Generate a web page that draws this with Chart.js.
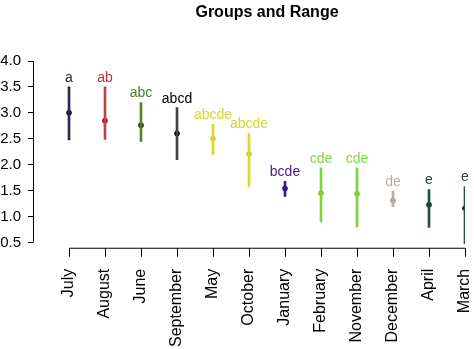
<!DOCTYPE html>
<html>
<head>
<meta charset="utf-8">
<script src="https://cdn.jsdelivr.net/npm/chart.js@4/dist/chart.umd.min.js"></script>
<style>
  html, body { margin: 0; padding: 0; background: #fff; }
  canvas { display: block; }
</style>
</head>
<body>
<canvas id="rangeChart" width="474" height="349"></canvas>
<script>
const months = ["July", "August", "June", "September", "May", "October",
  "January", "February", "November", "December", "April", "March"];
const means = [3.0, 2.85, 2.76, 2.6, 2.5, 2.21, 1.54, 1.45, 1.44, 1.31, 1.23, 1.16];
const lows  = [2.48, 2.49, 2.45, 2.1, 2.2, 1.58, 1.39, 0.9, 0.8, 1.19, 0.79, 0.48];
const highs = [3.5, 3.5, 3.2, 3.1, 2.78, 2.6, 1.68, 1.94, 1.94, 1.49, 1.52, 1.58];
const groups = ["a", "ab", "abc", "abcd", "abcde", "abcde", "bcde", "cde", "cde", "de", "e", "e"];
const yTicks = [0.5, 1.0, 1.5, 2.0, 2.5, 3.0, 3.5, 4.0];

const lineColors  = ["#2a2a48", "#b5474b", "#5b7d2d", "#404040", "#d9d92a", "#d9d92a",
  "#3a1a8a", "#7ed33a", "#7ed33a", "#b8aca6", "#245040", "#245040"];
const dotColors   = ["#111122", "#c00010", "#0e2a0e", "#000000", "#d0d020", "#d0d020",
  "#2a1080", "#74cc30", "#74cc30", "#a89c98", "#0e3020", "#0e3020"];
const labelColors = ["#1c1c5a", "#c0303a", "#4f7a1f", "#000000", "#d8d830", "#d8d830",
  "#4b1590", "#84d63a", "#84d63a", "#b8aca6", "#1e4a3a", "#1e4a3a"];

const FONT = "'Liberation Sans', Arial, sans-serif";

// axes drawn R-style (detached), group letters and the title
const extras = {
  id: "extras",
  afterDraw(chart) {
    const ctx = chart.ctx;
    const x = chart.scales.x, y = chart.scales.y;
    const area = chart.chartArea;
    ctx.save();
    ctx.strokeStyle = "#000";
    ctx.lineWidth = 1;
    ctx.beginPath();
    ctx.moveTo(area.left + 0.5, y.getPixelForValue(yTicks[0]));
    ctx.lineTo(area.left + 0.5, y.getPixelForValue(yTicks[yTicks.length - 1]));
    ctx.moveTo(x.getPixelForValue(0), area.bottom + 0.5);
    ctx.lineTo(x.getPixelForValue(months.length - 1), area.bottom + 0.5);
    ctx.stroke();

    ctx.font = "14px " + FONT;
    ctx.textAlign = "center";
    ctx.textBaseline = "bottom";
    groups.forEach((g, i) => {
      ctx.fillStyle = labelColors[i];
      ctx.fillText(g, x.getPixelForValue(i), y.getPixelForValue(highs[i]) - 2);
    });

    ctx.font = "bold 16px " + FONT;
    ctx.fillStyle = "#000";
    ctx.textBaseline = "middle";
    ctx.fillText("Groups and Range", x.getPixelForValue((months.length - 1) / 2), 13);
    ctx.restore();
  }
};

new Chart(document.getElementById("rangeChart"), {
  type: "bar",
  data: {
    datasets: [
      {
        type: "bar",
        data: months.map((m, i) => ({ x: i, y: [lows[i], highs[i]] })),
        backgroundColor: lineColors,
        borderWidth: 0,
        barThickness: 2
      },
      {
        type: "scatter",
        data: months.map((m, i) => ({ x: i, y: means[i] })),
        pointRadius: 2.8,
        pointBackgroundColor: dotColors,
        pointBorderWidth: 0
      }
    ]
  },
  options: {
    responsive: false,
    animation: false,
    devicePixelRatio: 1,
    layout: { padding: { top: 61, right: 9, bottom: -10, left: 0 } },
    plugins: { legend: { display: false }, tooltip: { enabled: false }, title: { display: false } },
    scales: {
      x: {
        type: "linear",
        offset: false,
        min: -1,
        max: months.length - 1,
        afterBuildTicks: s => { s.ticks = months.map((m, i) => ({ value: i })); },
        afterFit: s => { s.paddingLeft = 0; s.paddingRight = 0; },
        grid: { offset: false, drawOnChartArea: false, drawTicks: true, tickLength: 9, color: "#000" },
        border: { display: false },
        ticks: {
          autoSkip: false,
          minRotation: 90,
          maxRotation: 90,
          padding: 12,
          color: "#000",
          font: { family: FONT, size: 16 },
          callback: v => months[v]
        }
      },
      y: {
        min: 0.4,
        max: 4.0,
        afterBuildTicks: s => { s.ticks = yTicks.map(v => ({ value: v })); },
        afterFit: s => { s.width = 33; },
        grid: { drawOnChartArea: false, drawTicks: true, tickLength: 5, color: "#000" },
        border: { display: false },
        ticks: {
          padding: 7,
          color: "#000",
          font: { family: FONT, size: 15 },
          callback: v => v.toFixed(1)
        }
      }
    }
  },
  plugins: [extras]
});
</script>
</body>
</html>
